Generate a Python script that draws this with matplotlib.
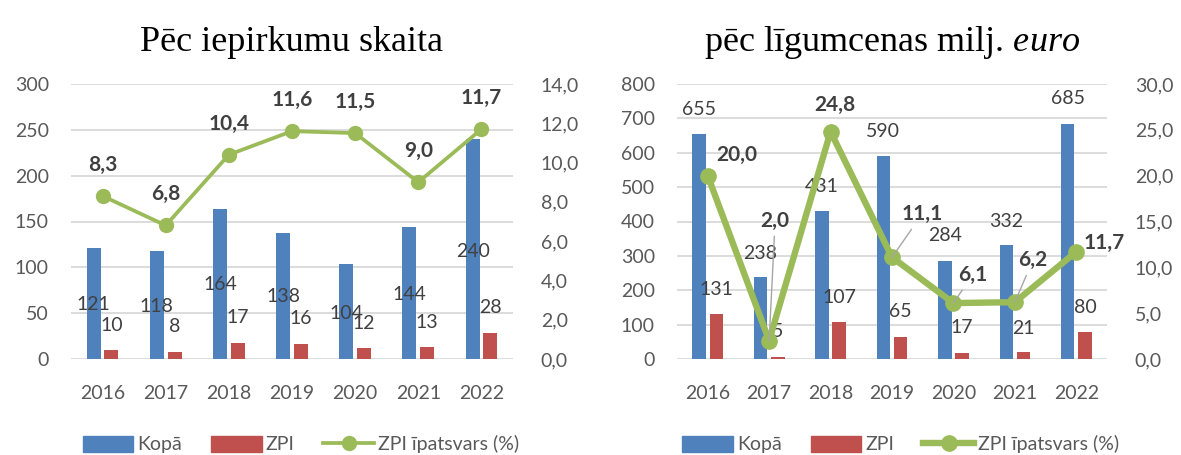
import matplotlib
matplotlib.use("Agg")
import matplotlib.pyplot as plt
import numpy as np
from matplotlib.ticker import FuncFormatter, MultipleLocator

plt.rcParams["font.family"] = ["Lato", "DejaVu Sans"]
plt.rcParams["mathtext.fontset"] = "custom"
plt.rcParams["mathtext.rm"] = "Liberation Serif"
plt.rcParams["mathtext.it"] = "Liberation Serif:italic"

# =====================
# Dati
# =====================
years = ["2016", "2017", "2018", "2019", "2020", "2021", "2022"]

# pēc iepirkumu skaita
skaits_kopa = [121, 118, 164, 138, 104, 144, 240]
skaits_zpi = [10, 8, 17, 16, 12, 13, 28]
skaits_pct = [8.3, 6.8, 10.4, 11.6, 11.5, 9.0, 11.7]

# pēc līgumcenas, milj. euro
summa_kopa = [655, 238, 431, 590, 284, 332, 685]
summa_zpi = [131, 5, 107, 65, 17, 21, 80]
summa_pct = [20.0, 2.0, 24.8, 11.1, 6.1, 6.2, 11.7]

# datu etiķešu novietojums (kreisās ass vienībās)
skaits_kopa_lbl_y = [59, 57, 81, 68, 50, 70, 117]
skaits_zpi_lbl_y = [37, 35, 45, 44, 39, 40, 56]
summa_kopa_lbl_y = [727, 308, 503, 663, 358, 401, 759]
summa_zpi_lbl_y = [201, 79, 180, 137, 93, 90, 151]

# līnijas etiķešu nobīde pikseļos (dx, dy) un vai ir norādes līnija
skaits_pct_off = [(0, 31)] * 7
skaits_pct_leader = [False] * 7
summa_pct_off = [(29, 21), (6, 120), (4, 27), (30, 43), (19, 28), (18, 42), (28, 9)]
summa_pct_leader = [False, True, False, True, True, True, False]

BLUE = "#4F81BD"
RED = "#C0504D"
GREEN = "#9BBB59"
TICK = "#595959"
LABEL = "#404040"
GRID = "#D9D9D9"
PX = 0.72  # 1 px -> pt pie dpi=100


def comma(fmt):
    return FuncFormatter(lambda v, p: fmt.format(v).replace(".", ","))


def panel(ax, kopa, zpi, pct, ymax, ystep, y2max, y2step,
          kopa_lbl, zpi_lbl, pct_off, pct_leader, lw, ms, title):
    x = np.arange(len(years))
    w = 0.22
    off = 0.14

    ax.bar(x - off, kopa, w, color=BLUE, zorder=2)
    ax.bar(x + off, zpi, w, color=RED, zorder=2)
    ax.set_xlim(-0.5, len(years) - 0.5)
    ax.set_ylim(0, ymax)
    ax.yaxis.set_major_locator(MultipleLocator(ystep))
    ax.grid(axis="y", color=GRID, lw=1.3, zorder=0)
    ax.set_axisbelow(True)
    for s in ax.spines.values():
        s.set_visible(False)
    ax.set_xticks(x)
    ax.set_xticklabels(years)
    ax.tick_params(axis="x", length=0, pad=19, labelsize=14, labelcolor=TICK)
    ax.tick_params(axis="y", length=0, pad=16, labelsize=14, labelcolor=TICK)

    for i in range(len(years)):
        ax.text(x[i] - off, kopa_lbl[i], str(kopa[i]), ha="center", va="center",
                fontsize=14, color=LABEL, zorder=5)
        ax.text(x[i] + off, zpi_lbl[i], str(zpi[i]), ha="center", va="center",
                fontsize=14, color=LABEL, zorder=5)

    ax2 = ax.twinx()
    ax2.plot(x, pct, color=GREEN, lw=lw, marker="o", ms=ms, zorder=4)
    ax2.set_ylim(0, y2max)
    ax2.yaxis.set_major_locator(MultipleLocator(y2step))
    ax2.yaxis.set_major_formatter(comma("{:.1f}"))
    ax2.tick_params(axis="y", length=0, pad=20, labelsize=14, labelcolor=TICK)
    for s in ax2.spines.values():
        s.set_visible(False)

    for i in range(len(years)):
        dx, dy = pct_off[i]
        arrow = None
        if pct_leader[i]:
            arrow = dict(arrowstyle="-", color="#A6A6A6", lw=1.0,
                         shrinkA=2, shrinkB=0)
        ax2.annotate(f"{pct[i]:.1f}".replace(".", ","), (x[i], pct[i]),
                     xytext=(dx * PX, dy * PX), textcoords="offset points",
                     ha="center", va="center", fontsize=15, fontweight="bold",
                     color=LABEL, arrowprops=arrow, zorder=6)

    ax.set_title(title, family="Liberation Serif", fontsize=26, pad=24)

    handles = [
        plt.Rectangle((0, 0), 1, 1, color=BLUE),
        plt.Rectangle((0, 0), 1, 1, color=RED),
        plt.Line2D([], [], color=GREEN, lw=lw, marker="o", ms=ms),
    ]
    ax.legend(handles, ["Kopā", "ZPI", "ZPI īpatsvars (%)"], loc="center",
              bbox_to_anchor=(0.52, -0.31), ncol=3, frameon=False,
              fontsize=14, labelcolor=TICK, handlelength=2.6, handleheight=0.9,
              handletextpad=0.2, columnspacing=1.5)
    return ax2


fig = plt.figure(figsize=(11.81, 4.55), dpi=100)
ax_l = fig.add_axes([71 / 1181, 1 - 359 / 455, 442 / 1181, 275 / 455])
ax_r = fig.add_axes([677 / 1181, 1 - 359 / 455, 430 / 1181, 275 / 455])

panel(ax_l, skaits_kopa, skaits_zpi, skaits_pct, 300, 50, 14, 2,
      skaits_kopa_lbl_y, skaits_zpi_lbl_y, skaits_pct_off, skaits_pct_leader,
      2.7, 10, "Pēc iepirkumu skaita")
panel(ax_r, summa_kopa, summa_zpi, summa_pct, 800, 100, 30, 5,
      summa_kopa_lbl_y, summa_zpi_lbl_y, summa_pct_off, summa_pct_leader,
      4.6, 11, "pēc līgumcenas milj. $\\mathit{euro}$")

plt.savefig("out.png", dpi=100)
